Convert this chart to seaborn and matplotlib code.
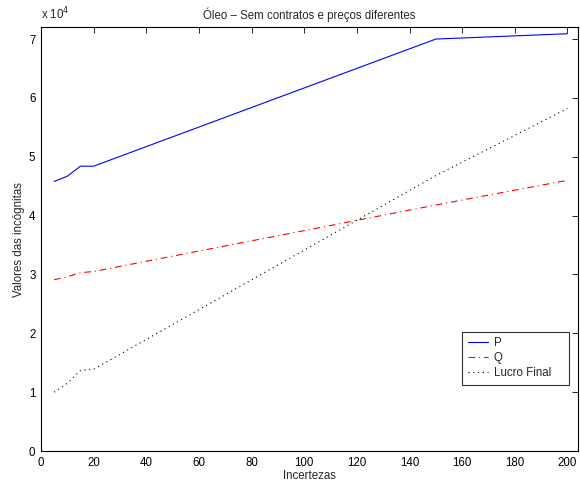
import matplotlib
matplotlib.use("Agg")
import matplotlib.pyplot as plt
import seaborn as sns
import pandas as pd

incertezas = [5, 10, 15, 20, 150, 200]
valores_p = [45800, 46700, 48400, 48400, 70000, 70900]
valores_q = [29100, 29600, 30300, 30500, 41800, 46000]
valores_lucro = [10000, 11500, 13700, 13900, 46800, 58200]
series_names = ["P", "Q", "Lucro Final"]
x_ticks = [0, 20, 40, 60, 80, 100, 120, 140, 160, 180, 200]
y_ticks = [0, 10000, 20000, 30000, 40000, 50000, 60000, 70000]
y_ticklabels = ["0", "1", "2", "3", "4", "5", "6", "7"]

sns.set_style("white")
plt.rcParams['font.family'] = ['Liberation Sans', 'DejaVu Sans']
FS = 8.3
plt.rcParams['font.size'] = FS

df = pd.DataFrame({"x": incertezas, "P": valores_p, "Q": valores_q, "Lucro Final": valores_lucro})

fig = plt.figure(figsize=(5.8, 4.87), dpi=100)
ax = fig.add_axes([0.0707, 0.0739, 0.9259, 0.8701])

styles = {"P": dict(color="#0000ff", linestyle="-"),
          "Q": dict(color="#ff0000", linestyle=(0, (6, 3.5, 1, 3.5))),
          "Lucro Final": dict(color="#000000", linestyle=(0, (1, 3.3)))}
for name in series_names:
    sns.lineplot(data=df, x="x", y=name, ax=ax, label=name, linewidth=0.8, **styles[name])

ax.set_xlim(0, 204)
ax.set_ylim(0, 72000)
ax.set_xticks(x_ticks)
ax.set_xticklabels([str(t) for t in x_ticks])
ax.set_yticks(y_ticks)
ax.set_yticklabels(y_ticklabels)
ax.tick_params(direction="in", top=True, right=True, length=4, width=0.6, labelsize=FS, pad=4, colors="black")
for s in ax.spines.values():
    s.set_visible(True)
    s.set_linewidth(0.8)
    s.set_color("black")

ax.set_xlabel("Incertezas", fontsize=FS, labelpad=1)
ax.set_ylabel("Valores das incógnitas", fontsize=FS, labelpad=3)
ax.set_title("Óleo – Sem contratos e preços diferentes", fontsize=FS, pad=6)
ax.text(0.0, 1.012, r"x 10$^4$", transform=ax.transAxes, fontsize=FS, ha="left", va="bottom")

leg = ax.legend(loc="lower left", bbox_to_anchor=(0.784, 0.156, 0.199, 0.1), mode="expand",
                fontsize=FS, frameon=True, fancybox=False, borderpad=0.5, labelspacing=0.25,
                handlelength=1.75, handletextpad=0.5, borderaxespad=0)
leg.get_frame().set_edgecolor("black")
leg.get_frame().set_linewidth(0.8)

fig.savefig("out.png", dpi=100)
